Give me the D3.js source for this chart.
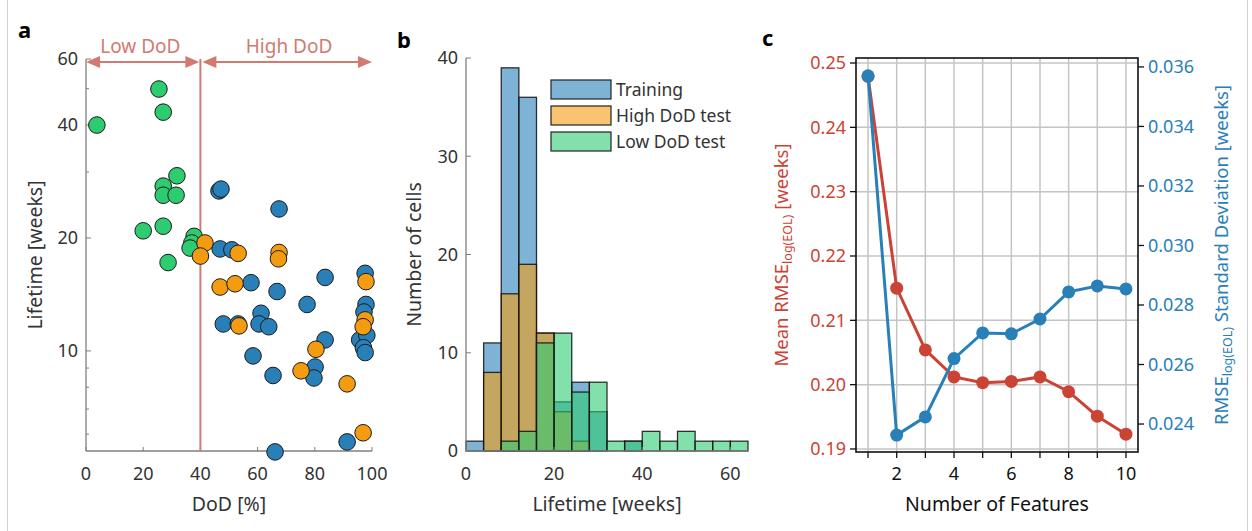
<!DOCTYPE html>
<html>
<head>
<meta charset="utf-8">
<script src="https://cdn.jsdelivr.net/npm/d3@7"></script>
<style>
  body { margin: 0; background: #fff; }
  svg { display: block; font-family: "Noto Sans", Lato, sans-serif; }
</style>
</head>
<body>
<svg id="chart" width="1252" height="531"></svg>
<script>
// ---- panel a: DoD vs lifetime ----
const lowDodDoD   = [3.8, 25.5, 27, 31.8, 27, 27, 31.5, 27, 20, 28.7, 37.8, 37, 36.4];
const lowDodLife  = [40, 49.9, 43.3, 29.3, 27.5, 26, 26, 21.5, 20.9, 17.2, 20.2, 19.4, 18.8];

const highDodDoD  = [41.6, 40, 53.2, 67.5, 67.3, 46.9, 52.1, 53.5, 97.9, 97.6, 96.9, 80.4, 75.2, 91.3, 96.9];
const highDodLife = [19.4, 17.9, 18.2, 18.3, 17.6, 14.8, 15.1, 11.66, 15.3, 12.1, 11.6, 10.1, 8.85, 8.17, 6.05];

const trainDoD  = [46.5, 47.2, 67.5, 46.9, 51, 57.7, 66.8, 83.6, 77.3, 97.6, 97.9, 97.2, 48, 53.2, 61.2, 60.5,
                   63.9, 83.6, 58.4, 80.1, 79.7, 65.4, 95.7, 98.2, 97, 97.6, 91.3, 66.1];
const trainLife = [26.7, 27.0, 23.9, 18.7, 18.6, 15.2, 14.4, 15.7, 13.3, 16.1, 13.3, 12.7, 11.8, 11.8, 12.6, 11.8,
                   11.6, 10.7, 9.7, 9.06, 8.47, 8.6, 10.7, 11.0, 10.2, 9.9, 5.72, 5.38];

const dodTicks  = [0, 20, 40, 60, 80, 100];
const lifeTicks = [10, 20, 40, 60];
const lifeMinor = [6, 7, 8, 9, 30, 50];

// ---- panel b: lifetime histogram (4-week bins) ----
const binEdges   = d3.range(0, 65, 4);
const trainCounts = [1, 11, 39, 36, 12, 5, 7, 4, 0, 1, 0, 0, 0, 0, 0, 0];
const highCounts  = [0, 8, 16, 19, 12, 4, 1, 0, 0, 0, 0, 0, 0, 0, 0, 0];
const lowCounts   = [0, 0, 1, 2, 11, 12, 6, 7, 1, 1, 2, 1, 2, 1, 1, 1];
const histNames   = ["Training", "High DoD test", "Low DoD test"];
const histYTicks  = [0, 10, 20, 30, 40];
const histXTicks  = [0, 20, 40, 60];

// ---- panel c: feature count ----
const nFeatures = [1, 2, 3, 4, 5, 6, 7, 8, 9, 10];
const meanRmse  = [0.2479, 0.2150, 0.2054, 0.2012, 0.2003, 0.2005, 0.2012, 0.1989, 0.1951, 0.1923];
const stdRmse   = [0.03570, 0.02363, 0.02424, 0.02620, 0.02706, 0.02703, 0.02753, 0.02844, 0.02864, 0.02854];
const leftTicks  = [0.19, 0.20, 0.21, 0.22, 0.23, 0.24, 0.25];
const rightTicks = [0.024, 0.026, 0.028, 0.030, 0.032, 0.034, 0.036];

const GREEN = "#2ecc71", ORANGE = "#f39c12", BLUE = "#2980b9", RED = "#cb4335";
const SALMON = "#d27a70", AXIS = "#7f7f7f", TEXT = "#333";
const TICK_FS = 18, LABEL_FS = 19.5;

const svg = d3.select("#chart");

// faint figure borders
svg.append("line").attr("x1", 7.5).attr("x2", 7.5).attr("y1", 0).attr("y2", 531).attr("stroke", "#d0d0d0");
svg.append("line").attr("x1", 1247.5).attr("x2", 1247.5).attr("y1", 0).attr("y2", 531).attr("stroke", "#d0d0d0");

function panelLabel(x, y, t) {
  svg.append("text").attr("x", x).attr("y", y).attr("font-size", 22).attr("font-weight", 700)
    .attr("fill", "#000").text(t);
}
panelLabel(18, 38, "a");
panelLabel(397, 48, "b");
panelLabel(762, 46, "c");

// ================= panel a =================
{
  const x = d3.scaleLinear().domain([0, 100]).range([86, 372]);
  const y = d3.scaleLog().domain([5.41, 60]).range([451, 59]);
  const g = svg.append("g");

  // axes (MATLAB-like: inward ticks, grey)
  g.append("line").attr("x1", 86).attr("x2", 372).attr("y1", 451).attr("y2", 451).attr("stroke", AXIS).attr("stroke-width", 1.3);
  g.append("line").attr("x1", 86).attr("x2", 86).attr("y1", 59).attr("y2", 451).attr("stroke", AXIS).attr("stroke-width", 1.3);
  dodTicks.forEach(t => {
    g.append("line").attr("x1", x(t)).attr("x2", x(t)).attr("y1", 451).attr("y2", 447).attr("stroke", AXIS);
    g.append("text").attr("x", x(t)).attr("y", 480).attr("text-anchor", "middle")
      .attr("font-size", TICK_FS).attr("fill", TEXT).text(t);
  });
  lifeTicks.forEach(t => {
    g.append("line").attr("x1", 86).attr("x2", 91).attr("y1", y(t)).attr("y2", y(t)).attr("stroke", AXIS);
    g.append("text").attr("x", 78).attr("y", y(t)).attr("dy", "0.35em").attr("text-anchor", "end")
      .attr("font-size", TICK_FS).attr("fill", TEXT).text(t);
  });
  lifeMinor.forEach(t => {
    g.append("line").attr("x1", 86).attr("x2", 89).attr("y1", y(t)).attr("y2", y(t)).attr("stroke", AXIS);
  });

  g.append("text").attr("x", x(50)).attr("y", 511).attr("text-anchor", "middle")
    .attr("font-size", LABEL_FS).attr("fill", TEXT).text("DoD [%]");
  g.append("text").attr("transform", `translate(42,${(59 + 451) / 2}) rotate(-90)`).attr("text-anchor", "middle")
    .attr("font-size", LABEL_FS).attr("fill", TEXT).text("Lifetime [weeks]");

  // DoD split line and arrows
  g.append("line").attr("x1", x(40)).attr("x2", x(40)).attr("y1", 59).attr("y2", 451)
    .attr("stroke", SALMON).attr("stroke-width", 2);
  const ay = 62;
  function arrow(x0, x1) {
    g.append("line").attr("x1", x0 + 8).attr("x2", x1 - 8).attr("y1", ay).attr("y2", ay)
      .attr("stroke", SALMON).attr("stroke-width", 2);
    g.append("path").attr("d", `M${x0},${ay} L${x0 + 14},${ay - 6} L${x0 + 14},${ay + 6} Z`).attr("fill", SALMON);
    g.append("path").attr("d", `M${x1},${ay} L${x1 - 14},${ay - 6} L${x1 - 14},${ay + 6} Z`).attr("fill", SALMON);
  }
  arrow(x(0), x(40) - 1);
  arrow(x(40) + 2, x(100));
  g.append("text").attr("x", x(19)).attr("y", 53).attr("text-anchor", "middle")
    .attr("font-size", 19).attr("fill", SALMON).text("Low DoD");
  g.append("text").attr("x", x(71)).attr("y", 53).attr("text-anchor", "middle")
    .attr("font-size", 19).attr("fill", SALMON).text("High DoD");

  function dots(xs, ys, col) {
    g.append("g").selectAll("circle").data(xs.map((d, i) => [d, ys[i]])).join("circle")
      .attr("cx", d => x(d[0])).attr("cy", d => y(d[1])).attr("r", 8.3)
      .attr("fill", col).attr("stroke", "#1a1a1a").attr("stroke-width", 1);
  }
  dots(lowDodDoD, lowDodLife, GREEN);
  dots(trainDoD, trainLife, BLUE);
  dots(highDodDoD, highDodLife, ORANGE);
}

// ================= panel b =================
{
  const x = d3.scaleLinear().domain([0, 64]).range([466, 748]);
  const y = d3.scaleLinear().domain([0, 40]).range([451, 58]);
  const g = svg.append("g");

  const series = [[trainCounts, BLUE], [highCounts, ORANGE], [lowCounts, GREEN]];
  series.forEach(([counts, col]) => {
    const bins = counts.map((c, i) => ({ x0: binEdges[i], x1: binEdges[i + 1], c })).filter(d => d.c > 0);
    g.append("g").selectAll("rect").data(bins).join("rect")
      .attr("x", d => x(d.x0)).attr("width", d => x(d.x1) - x(d.x0))
      .attr("y", d => y(d.c)).attr("height", d => y(0) - y(d.c))
      .attr("fill", col).attr("fill-opacity", 0.6)
      .attr("stroke", "#111").attr("stroke-opacity", 0.85).attr("stroke-width", 1.3);
  });

  g.append("line").attr("x1", 466).attr("x2", 748).attr("y1", 451).attr("y2", 451).attr("stroke", AXIS).attr("stroke-width", 1.3);
  g.append("line").attr("x1", 466).attr("x2", 466).attr("y1", 58).attr("y2", 451).attr("stroke", AXIS).attr("stroke-width", 1.3);
  histXTicks.forEach(t => {
    g.append("line").attr("x1", x(t)).attr("x2", x(t)).attr("y1", 451).attr("y2", 447).attr("stroke", AXIS);
    g.append("text").attr("x", x(t)).attr("y", 480).attr("text-anchor", "middle")
      .attr("font-size", TICK_FS).attr("fill", TEXT).text(t);
  });
  histYTicks.forEach(t => {
    g.append("line").attr("x1", 466).attr("x2", 471).attr("y1", y(t)).attr("y2", y(t)).attr("stroke", AXIS);
    g.append("text").attr("x", 458).attr("y", y(t)).attr("dy", "0.35em").attr("text-anchor", "end")
      .attr("font-size", TICK_FS).attr("fill", TEXT).text(t);
  });
  g.append("text").attr("x", x(32)).attr("y", 511).attr("text-anchor", "middle")
    .attr("font-size", LABEL_FS).attr("fill", TEXT).text("Lifetime [weeks]");
  g.append("text").attr("transform", `translate(421,${(58 + 451) / 2}) rotate(-90)`).attr("text-anchor", "middle")
    .attr("font-size", LABEL_FS).attr("fill", TEXT).text("Number of cells");

  // legend
  series.forEach(([, col], i) => {
    const ly = 80 + i * 26;
    g.append("rect").attr("x", 551).attr("y", ly).attr("width", 60).attr("height", 19)
      .attr("fill", col).attr("fill-opacity", 0.6).attr("stroke", "#222").attr("stroke-width", 1.2);
    g.append("text").attr("x", 616).attr("y", ly + 10).attr("dy", "0.35em")
      .attr("font-size", 17.5).attr("fill", TEXT).text(histNames[i]);
  });
}

// ================= panel c =================
{
  const L = 856, R = 1138, T = 58, B = 452;
  const x = d3.scaleLinear().domain([0.58, 10.42]).range([L, R]);
  const yl = d3.scaleLinear().domain([0.18953, 0.25078]).range([B, T]);
  const yr = d3.scaleLinear().domain([0.02306, 0.0363]).range([B, T]);
  const g = svg.append("g");

  // grid
  nFeatures.forEach(t => {
    g.append("line").attr("x1", x(t)).attr("x2", x(t)).attr("y1", T).attr("y2", B)
      .attr("stroke", "#c4c4c4").attr("stroke-width", 1.5);
  });
  leftTicks.forEach(t => {
    g.append("line").attr("x1", L).attr("x2", R).attr("y1", yl(t)).attr("y2", yl(t))
      .attr("stroke", "#c4c4c4").attr("stroke-width", 1.5);
  });

  // box
  g.append("rect").attr("x", L).attr("y", T).attr("width", R - L).attr("height", B - T)
    .attr("fill", "none").attr("stroke", "#111").attr("stroke-width", 1.6);

  // ticks
  nFeatures.forEach(t => {
    g.append("line").attr("x1", x(t)).attr("x2", x(t)).attr("y1", B).attr("y2", B + 6).attr("stroke", "#111").attr("stroke-width", 1.3);
    if (t % 2 === 0) g.append("text").attr("x", x(t)).attr("y", B + 28).attr("text-anchor", "middle")
      .attr("font-size", TICK_FS).attr("fill", "#111").text(t);
  });
  leftTicks.forEach(t => {
    g.append("line").attr("x1", L - 6).attr("x2", L).attr("y1", yl(t)).attr("y2", yl(t)).attr("stroke", "#111").attr("stroke-width", 1.3);
    g.append("text").attr("x", L - 10).attr("y", yl(t)).attr("dy", "0.35em").attr("text-anchor", "end")
      .attr("font-size", TICK_FS).attr("fill", RED).text(t.toFixed(2));
  });
  rightTicks.forEach(t => {
    g.append("line").attr("x1", R).attr("x2", R + 6).attr("y1", yr(t)).attr("y2", yr(t)).attr("stroke", "#111").attr("stroke-width", 1.3);
    g.append("text").attr("x", R + 10).attr("y", yr(t)).attr("dy", "0.35em").attr("text-anchor", "start")
      .attr("font-size", TICK_FS).attr("fill", BLUE).text(t.toFixed(3));
  });

  g.append("text").attr("x", (L + R) / 2).attr("y", 511).attr("text-anchor", "middle")
    .attr("font-size", LABEL_FS).attr("fill", "#111").text("Number of Features");

  function yLabel(tx, col, pre, post) {
    const t = g.append("text").attr("transform", `translate(${tx},${(T + B) / 2}) rotate(-90)`)
      .attr("text-anchor", "middle").attr("font-size", 18.5).attr("fill", col);
    t.append("tspan").text(pre);
    t.append("tspan").attr("font-size", 12.5).attr("dy", 4).text("log(EOL)");
    t.append("tspan").attr("dy", -4).text(post);
  }
  yLabel(788, RED, "Mean RMSE", " [weeks]");
  yLabel(1228, BLUE, "RMSE", " Standard Deviation [weeks]");

  // lines
  const redLine = d3.line().x((d, i) => x(nFeatures[i])).y(d => yl(d));
  const blueLine = d3.line().x((d, i) => x(nFeatures[i])).y(d => yr(d));
  g.append("path").attr("d", redLine(meanRmse)).attr("fill", "none").attr("stroke", RED).attr("stroke-width", 3);
  g.selectAll(".rd").data(meanRmse).join("circle").attr("class", "rd")
    .attr("cx", (d, i) => x(nFeatures[i])).attr("cy", d => yl(d)).attr("r", 6.5).attr("fill", RED);
  g.append("path").attr("d", blueLine(stdRmse)).attr("fill", "none").attr("stroke", BLUE).attr("stroke-width", 3);
  g.selectAll(".bd").data(stdRmse).join("circle").attr("class", "bd")
    .attr("cx", (d, i) => x(nFeatures[i])).attr("cy", d => yr(d)).attr("r", 6.5).attr("fill", BLUE);
}
</script>
</body>
</html>
